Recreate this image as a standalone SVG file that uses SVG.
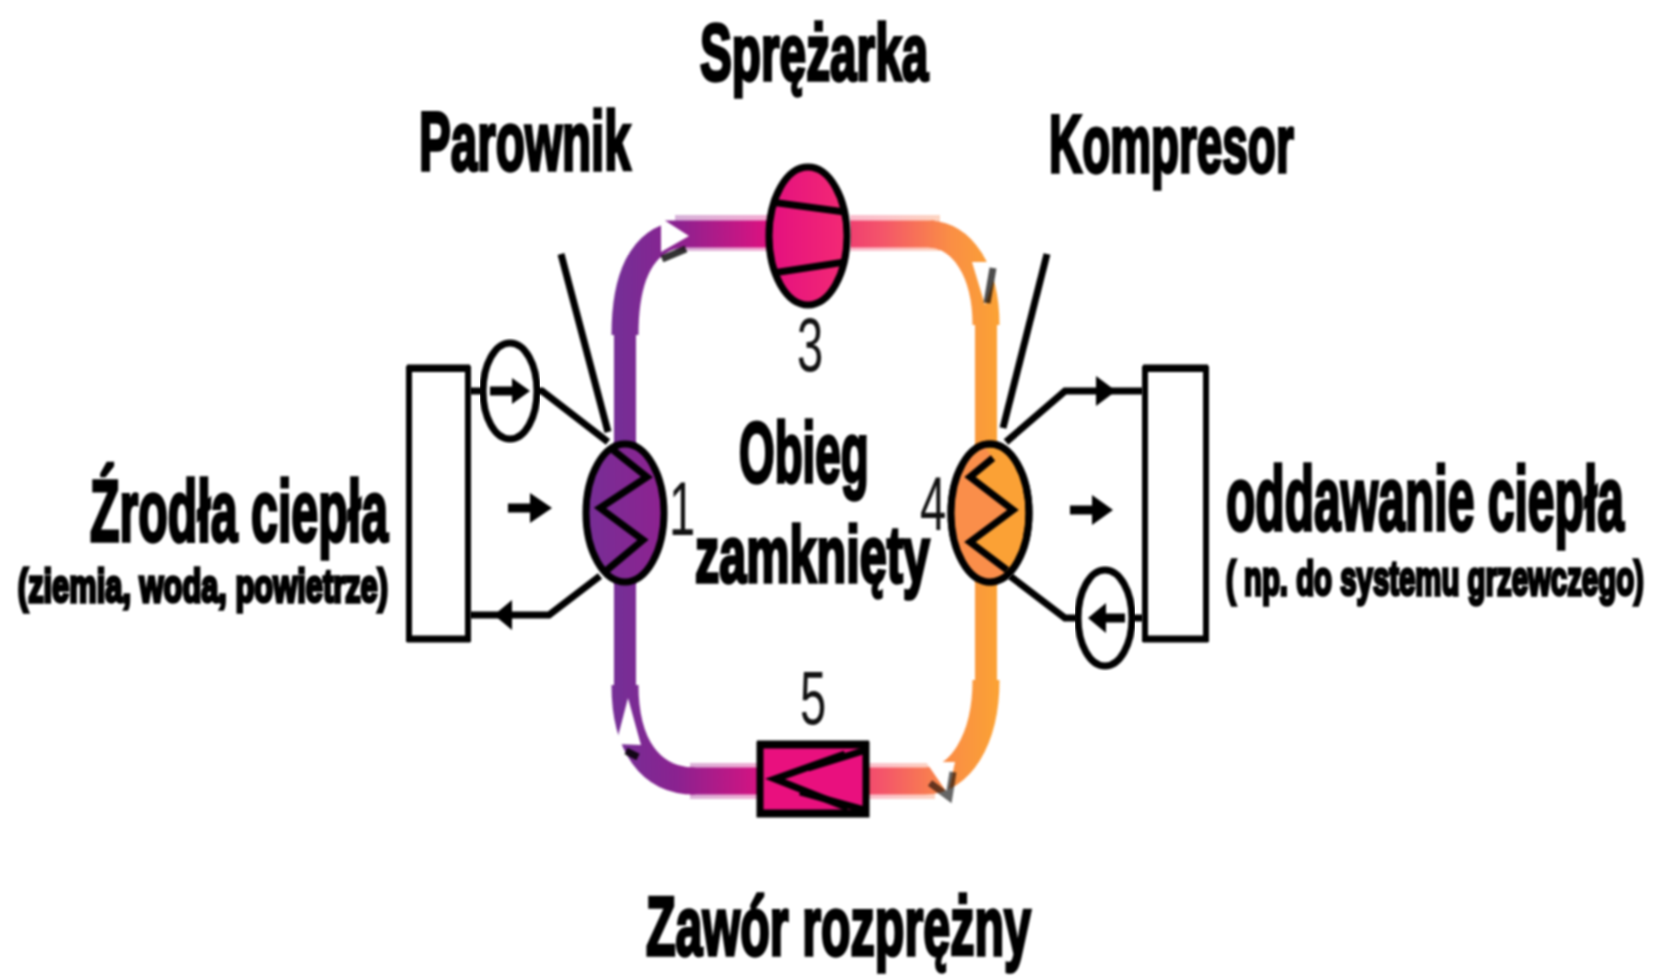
<svg xmlns="http://www.w3.org/2000/svg" width="1663" height="976" viewBox="0 0 1663 976">
<style>
g{filter:url(#s)}
.b{font-family:"Liberation Sans",Arial,sans-serif;font-weight:700;fill:#000;stroke:#000;stroke-width:3.5}
.n{font-family:"Liberation Sans",Arial,sans-serif;fill:#111;font-size:76px}
.l{fill:none;stroke:#000;stroke-width:7}
.t{fill:none;stroke:#000;stroke-width:9}
.o{stroke:#000;stroke-width:7}
.p{fill:none;stroke:url(#g);stroke-width:22}
.k{fill:none;stroke:url(#g);stroke-width:27}
.h{fill:none;stroke:url(#g);stroke-width:27}
.q{fill:none;stroke:url(#g);stroke-width:36;stroke-opacity:.35}
.r{fill:#fff;stroke:#000;stroke-width:6}
</style>
<defs>
<filter id="s" x="-5%" y="-5%" width="110%" height="110%" color-interpolation-filters="sRGB"><feGaussianBlur stdDeviation="0.9"/></filter>
<linearGradient id="g" gradientUnits="userSpaceOnUse" x1="620" y1="0" x2="995" y2="0">
<stop offset="0" stop-color="#762e96"/><stop offset="0.15" stop-color="#8a2290"/><stop offset="0.42" stop-color="#e6107e"/><stop offset="0.7" stop-color="#f4556a"/><stop offset="0.88" stop-color="#fa8e45"/><stop offset="1" stop-color="#fba135"/>
</linearGradient>
<linearGradient id="e" gradientUnits="userSpaceOnUse" x1="585" y1="0" x2="665" y2="0"><stop offset="0" stop-color="#762e96"/><stop offset="1" stop-color="#8e2290"/></linearGradient>
<linearGradient id="c" gradientUnits="userSpaceOnUse" x1="770" y1="0" x2="848" y2="0"><stop offset="0" stop-color="#e4107f"/><stop offset="1" stop-color="#f42a74"/></linearGradient>
</defs>
<g id="connectors">
<path class="q" d="M675 233H770M850 233H940"/>
<path class="q" d="M690 781H770M860 781H935"/>
<path class="p" d="M625 450V330"/>
<path class="k" d="M625 335C625 280 640 240 680 234"/>
<path class="h" d="M665 234H770"/>
<path class="k" d="M930 234C962 236 986 270 986 325"/>
<path class="p" d="M986 320V450"/>
<path class="h" d="M850 234H935"/>
<path class="p" d="M986 580V680"/>
<path class="k" d="M986 680C986 740 960 781 925 781"/>
<path class="h" d="M860 781H925"/>
<path class="p" d="M625 580V690"/>
<path class="k" d="M625 685C625 745 650 781 695 781"/>
<path class="h" d="M690 781H770"/>
<path d="M661 218L689 236L661 252z" fill="#fff"/>
<path d="M662 259L686 249" class="l" stroke-width="6" stroke-opacity=".8"/>
<path d="M972 262L985 305L1000 262z" fill="#fff"/>
<path d="M993 268L987 303" class="l" stroke-width="4" stroke-opacity=".7"/>
<path d="M616 744L628 698L641 745z" fill="#fff"/>
<path d="M626 751L638 757" class="l" stroke-width="6" stroke-opacity=".85"/>
<path d="M926 762H955L948 794z" fill="#fff"/>
<path d="M930 783L949 797L953 772" class="l" stroke-width="4" stroke-opacity=".6"/>
<path class="l" d="M470 391H482M537 391H542L608 442"/>
<path class="l" d="M470 615H549L600 576"/>
<path class="l" d="M1143 391H1065L1006 442"/>
<path class="l" d="M1143 618H1133M1077 618H1065L1010 576"/>
<path d="M561 254L608 432" class="l" stroke-width="6"/>
<path d="M1047 254L1003 428" class="l" stroke-width="6"/>
<path class="t" d="M490 391H518"/><path d="M512 378L530 391L512 404z"/>
<path class="t" d="M508 508H535"/><path d="M530 493L552 508L530 523z"/>
<path d="M512 600L494 615L512 630z"/>
<path d="M1096 376L1116 391L1096 406z"/>
<path class="t" d="M1070 510H1096"/><path d="M1092 495L1113 510L1092 525z"/>
<path class="t" d="M1098 618H1125"/><path d="M1106 603L1088 618L1106 633z"/>
</g>
<g id="source"><rect x="409" y="369" width="59" height="270" class="r"/><path d="M407 368H470M407 639H470" class="l" stroke-width="8"/><text class="b" transform="translate(388 541) scale(.5 1)" text-anchor="end" font-size="88" textLength="596" lengthAdjust="spacingAndGlyphs">Źrodła ciepła</text><text class="b" transform="translate(388 602) scale(.62 1)" text-anchor="end" font-size="46" textLength="597" lengthAdjust="spacingAndGlyphs" stroke-width="2.5">(ziemia, woda, powietrze)</text></g>
<g id="sink"><rect x="1145" y="369" width="61" height="270" class="r"/><path d="M1143 368H1208M1143 639H1208" class="l" stroke-width="8"/><text class="b" transform="translate(1226 530) scale(.5 1)" font-size="90" textLength="796" lengthAdjust="spacingAndGlyphs">oddawanie ciepła</text><text class="b" transform="translate(1226 595) scale(.62 1)" font-size="48" textLength="674" lengthAdjust="spacingAndGlyphs" stroke-width="2.5">( np. do systemu grzewczego)</text></g>
<g id="pump-left"><ellipse cx="510" cy="391" rx="27" ry="48" fill="none" class="o"/></g>
<g id="pump-right"><ellipse cx="1105" cy="618" rx="27" ry="48" fill="none" class="o"/></g>
<g id="evaporator"><ellipse cx="625" cy="513" rx="39" ry="69" fill="url(#e)" class="o"/><path class="l" d="M613 450L647 477L600 508L643 540L607 570"/><text class="n" transform="translate(669 535) scale(.62 1)" font-size="80">1</text><text class="b" transform="translate(419 170) scale(.55 1)" font-size="84" textLength="385" lengthAdjust="spacingAndGlyphs">Parownik</text></g>
<g id="compressor"><ellipse cx="808" cy="236" rx="39" ry="69" fill="url(#c)" class="o"/><path class="l" d="M771 202L845 212M773 273L845 262" stroke-width="8"/><text class="n" transform="translate(797 371) scale(.62 1)">3</text><text class="b" transform="translate(700 80) scale(.55 1)" font-size="80" textLength="415" lengthAdjust="spacingAndGlyphs">Sprężarka</text></g>
<g id="condenser"><ellipse cx="990" cy="513" rx="39" ry="69" fill="#fba135" class="o"/><path d="M970 477L1013 510L970 542L1007 573L985 581L960 565L952 513L960 465L985 447L993 458z" fill="#fa8e4a"/><path class="l" d="M993 458L970 477L1013 510L970 542L1007 570"/><ellipse cx="990" cy="513" rx="39" ry="69" fill="none" class="o"/><text class="n" transform="translate(920 530) scale(.62 1)" font-size="80">4</text><text class="b" transform="translate(1049 172) scale(.55 1)" font-size="82" textLength="445" lengthAdjust="spacingAndGlyphs">Kompresor</text></g>
<g id="valve"><rect x="760" y="745" width="106" height="69" fill="#e9107e" stroke="#000" stroke-width="7"/><path d="M757 744H869" class="l" stroke-width="7"/><path d="M757 813H869" class="l" stroke-width="10"/><path class="l" d="M845 754L775 779L848 808" stroke-width="8"/><path class="l" d="M866 750L808 768M865 810L800 792" stroke-width="6"/><text class="n" transform="translate(800 724) scale(.62 1)">5</text><text class="b" transform="translate(646 955) scale(.55 1)" font-size="84" textLength="700" lengthAdjust="spacingAndGlyphs">Zawór rozprężny</text></g>
<g id="cycle"><text class="b" transform="translate(739 482) scale(.55 1)" font-size="86" textLength="236" lengthAdjust="spacingAndGlyphs">Obieg</text><text class="b" transform="translate(695 582) scale(.55 1)" font-size="80" textLength="427" lengthAdjust="spacingAndGlyphs">zamknięty</text></g>
</svg>
